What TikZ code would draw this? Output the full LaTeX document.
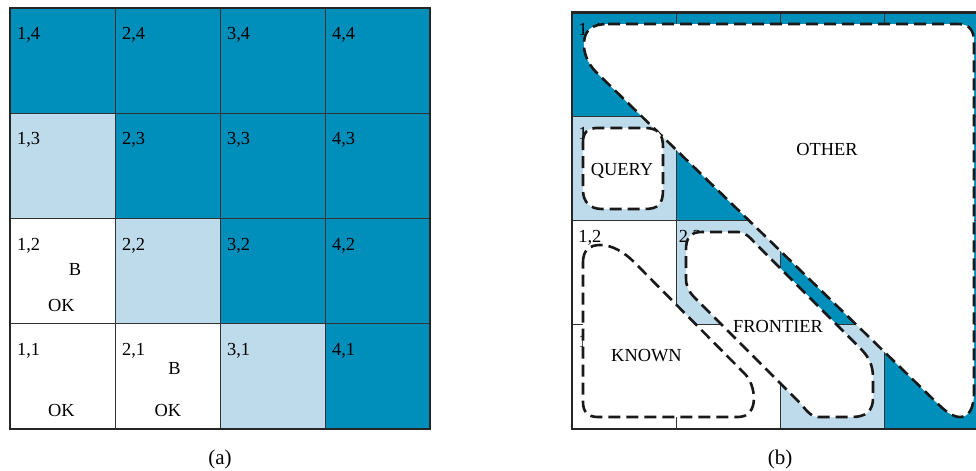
\documentclass[tikz,border=0pt]{standalone}
\usepackage{fontspec}
\setmainfont{Liberation Serif}
\definecolor{dk}{RGB}{0,142,186}
\definecolor{lt}{RGB}{189,219,234}
\begin{document}
\begin{tikzpicture}[x=0.5pt,y=-0.5pt,
  grid/.style={draw=black!80,line width=0.5pt},
  border/.style={draw=black!85,line width=1.2pt},
  blob/.style={draw=black!90,fill=white,line width=1.3pt,dash pattern=on 6pt off 3pt},
  lbl/.style={anchor=north west,inner sep=0pt,font=\fontsize{9.2}{11}\selectfont},
  txt/.style={inner sep=0pt,font=\fontsize{9.2}{11}\selectfont},
  captxt/.style={inner sep=0pt,font=\fontsize{10.5}{12}\selectfont}]
\useasboundingbox (0,0) rectangle (976,471);
\clip (0,0) rectangle (976,471);
% ---------- left panel (a)
\fill[dk] (10,8) rectangle (430,429);
\fill[lt] (10,113.25) rectangle (115,218.5);
\fill[white] (10,218.5) rectangle (115,429);
\fill[lt] (115,218.5) rectangle (220,323.75);
\fill[white] (115,323.75) rectangle (220,429);
\fill[lt] (220,323.75) rectangle (325,429);
\foreach \x in {115,220,325} \draw[grid] (\x,8) -- (\x,429);
\foreach \y in {113.25,218.5,323.75} \draw[grid] (10,\y) -- (430,\y);
\draw[border] (10,8) rectangle (430,429);
\foreach \i in {1,...,4}
  \foreach \j in {1,...,4}
    \node[lbl] (a\i\j) at ({16.7+105*(\i-1)},{27+105.25*(4-\j)}) {\i,\j};
\node[txt] (aB12) at (75,269.5) {B};
\node[txt] (aOK12) at (61.5,305) {OK};
\node[txt] (aOK11) at (61.5,410.5) {OK};
\node[txt] (aB21) at (174.5,369) {B};
\node[txt] (aOK21) at (168,410.5) {OK};
\node[captxt] (capa) at (220,459.5) {(a)};
% ---------- right panel (b)
\fill[dk] (572,12.5) rectangle (988,429);
\fill[lt] (572,116.6) rectangle (676,220.7);
\fill[white] (572,220.7) rectangle (676,429);
\fill[lt] (676,220.7) rectangle (780,324.8);
\fill[white] (676,324.8) rectangle (780,429);
\fill[lt] (780,324.8) rectangle (884,429);
\foreach \x in {676,780,884} \draw[grid] (\x,12.5) -- (\x,429);
\foreach \y in {116.6,220.7,324.8} \draw[grid] (572,\y) -- (988,\y);
\node[lbl] (b14) at (578,22.5) {1,4};
\node[lbl] (b13) at (578,126.6) {1,3};
\node[lbl] (b12) at (578,230) {1,2};
\node[lbl] (b22) at (678.5,230) {2,2};
\node[lbl] (b11) at (578,334.8) {1,1};
% blobs
\draw[blob] (608,24) -- (958,24) .. controls (969,24) and (974,30) .. (974,42)
  -- (974,392) .. controls (974,410) and (968,417) .. (960,417)
  .. controls (952,417) and (944,410) .. (936,402)
  -- (596,72) .. controls (588,64) and (583,52) .. (584,42)
  .. controls (585,30) and (592,24) .. cycle;
\draw[blob] (583,142) .. controls (583,132) and (588,128) .. (598,128)
  -- (645,128) .. controls (658,128) and (663,134) .. (663,147)
  -- (663,190) .. controls (663,204) and (658,209) .. (645,209)
  -- (602,209) .. controls (590,209) and (583,202) .. (583,190) -- cycle;
\draw[blob] (686,250) .. controls (686,238) and (690,232) .. (702,232)
  -- (738,232) .. controls (746,232) and (750,238) .. (757,245)
  -- (860,348) .. controls (869,357) and (873,365) .. (873,378)
  -- (873,398) .. controls (873,411) and (866,417) .. (852,417)
  -- (818,417) .. controls (810,417) and (805,408) .. (798,401)
  -- (696,299) .. controls (689,292) and (686,287) .. (686,278) -- cycle;
\draw[blob] (583,262) .. controls (583,250) and (590,245) .. (600,245)
  .. controls (612,245) and (624,252) .. (634,262)
  -- (745,374) .. controls (756,385) and (760,417) .. (738,417)
  -- (598,417) .. controls (588,417) and (583,412) .. (583,402) -- cycle;
\node[txt] (other) at (827,149) {OTHER};
\node[txt] (query) at (622,171) {QUERY};
\node[txt] (frontier) at (778,326) {FRONTIER};
\node[txt] (known) at (646.5,356) {KNOWN};
\draw[border] (572,12.5) rectangle (988,429);
\node[captxt] (capb) at (780,459.5) {(b)};
\end{tikzpicture}
\end{document}
